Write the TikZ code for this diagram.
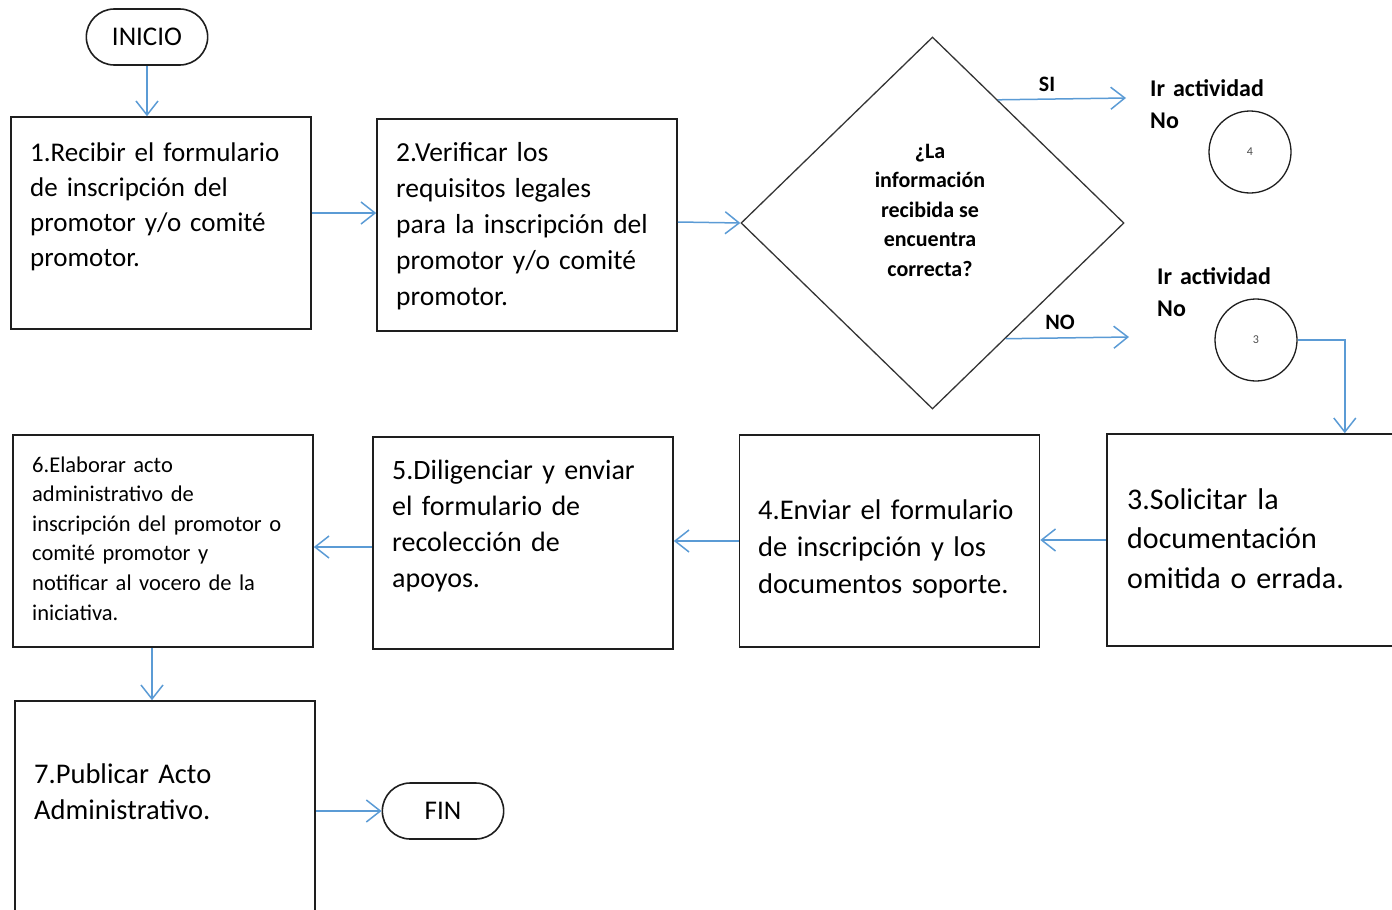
\documentclass[tikz,border=0pt]{standalone}
\usepackage{fontspec}
\setmainfont{Carlito}
\usetikzlibrary{shapes.geometric,shapes.misc,arrows.meta,calc}

\definecolor{azul}{RGB}{91,155,213}
\definecolor{borde}{RGB}{30,30,30}

\tikzset{
  caja/.style={draw=borde, line width=1.6pt, minimum width=300pt, minimum height=212pt, inner sep=0pt},
  texto/.style={anchor=base west, align=left, inner sep=0pt, text width=340pt},
  terminal/.style={rounded rectangle, draw=borde, line width=1.6pt, minimum width=128pt, minimum height=56pt, font=\fontsize{27}{27}\selectfont},
  decision/.style={diamond, draw=borde!90, line width=1.3pt, minimum width=383pt, minimum height=372pt, inner sep=0pt, align=center, font=\bfseries\fontsize{22}{29.5}\selectfont},
  conector/.style={circle, draw=borde, line width=1.3pt, minimum size=82pt, inner sep=0pt, text=black!70, font=\fontsize{12}{12}\selectfont},
  etiq/.style={font=\bfseries\fontsize{22}{32}\selectfont, inner sep=0pt},
  flecha/.style={draw=azul, line width=1.5pt, -{Straight Barb[length=14pt,width=22pt]}}
}

\begin{document}
\begin{tikzpicture}[x=1pt, y=-1pt] %coordenadas en pixeles, eje y hacia abajo
	\clip (0,0) rectangle (1392,910); %marco del dibujo
		%Inicio y fin
	\node[terminal] (inicio) at (147,37) {INICIO};
	\node[terminal] (fin) at (443,811) {FIN};
		%Cajas de actividades
	\node[caja] (paso1) at (161,223) {};
	\node[caja] (paso2) at (527,225) {};
	\node[caja] (paso3) at (1257,540) {};
	\node[caja] (paso4) at (889.5,541) {};
	\node[caja] (paso5) at (523,543) {};
	\node[caja] (paso6) at (163,541) {};
	\node[caja] (paso7) at (165,807) {};
		%Textos de las cajas
	\node[texto, font=\fontsize{27}{35}\selectfont] (txt1) at (30,161) {1.Recibir el formulario\\de inscripción  del\\promotor y/o  comité\\promotor.};
	\node[texto, font=\fontsize{27.5}{36}\selectfont] (txt2) at (396,161) {2.Verificar los\\requisitos legales\\para la inscripción del\\promotor y/o comité\\promotor.};
	\node[texto, font=\fontsize{30}{39.5}\selectfont] (txt3) at (1127,509) {3.Solicitar la\\documentación\\omitida  o errada.};
	\node[texto, font=\fontsize{28.5}{37}\selectfont] (txt4) at (758,519) {4.Enviar el formulario\\de inscripción y los\\documentos soporte.};
	\node[texto, font=\fontsize{28}{36}\selectfont] (txt5) at (392,479) {5.Diligenciar y enviar\\el formulario de\\recolección de\\apoyos.};
	\node[texto, font=\fontsize{22.5}{29.6}\selectfont] (txt6) at (32,472) {6.Elaborar acto\\administrativo de\\inscripción del promotor o\\comité promotor y\\notificar al vocero de la\\iniciativa.};
	\node[texto, font=\fontsize{28.5}{36}\selectfont] (txt7) at (34,783) {7.Publicar Acto\\Administrativo.};
		%Decision
	\node[decision] (pregunta) at (932.5,223) {};
	\node[decision, draw=none, minimum width=0pt, minimum height=0pt, shape=rectangle] (txtPregunta) at (930,210) {¿La\\información\\recibida se\\encuentra\\correcta?};
		%Conectores a otras actividades
	\node[texto, font=\bfseries\fontsize{24}{32}\selectfont] (irA) at (1150,96) {Ir actividad\\No};
	\node[texto, font=\bfseries\fontsize{24}{32}\selectfont] (irB) at (1157,284) {Ir actividad\\No};
	\node[conector] (act4) at (1250,152) {4};
	\node[conector] (act3) at (1256,340) {3};
	\coordinate (finSi) at (1126,98);
	\coordinate (finNo) at (1129,337);
	\node[etiq] (si) at (1047,84) {SI};
	\node[etiq] (no) at (1060,322) {NO};
		%Flechas
	\draw[flecha] (inicio.south) -- (inicio.south |- paso1.north);
	\draw[flecha] ([yshift=10pt]paso1.east) -- ([yshift=12pt]paso2.west);
	\draw[flecha] ([yshift=3pt]paso2.east) -- (pregunta.west);
	\draw[flecha] ($(pregunta.north)!0.34!(pregunta.east)$) -- (finSi); %rama SI
	\draw[flecha] ($(pregunta.east)!0.62!(pregunta.south)$) -- (finNo); %rama NO
	\draw[flecha] (act3.east) -| ([xshift=-63pt]paso3.north east);
	\draw[flecha] (paso3.west) -- (paso3.west -| paso4.east);
	\draw[flecha] (paso4.west) -- (paso4.west -| paso5.east);
	\draw[flecha] ([yshift=-4pt]paso5.west) -- ([yshift=-4pt]paso5.west -| paso6.east);
	\draw[flecha] ([xshift=-11pt]paso6.south) -- ([xshift=-13pt]paso7.north);
	\draw[flecha] (fin.west -| paso7.east) -- (fin.west);
\end{tikzpicture}
\end{document}
